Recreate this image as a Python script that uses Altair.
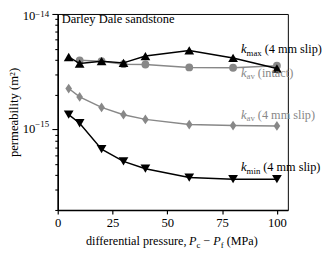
import altair as alt
import pandas as pd

# ---- data ----
P_all = [5, 10, 20, 30, 40, 60, 80, 100]
kmax_slip = [4.24e-15, 3.72e-15, 3.90e-15, 3.77e-15, 4.32e-15, 4.83e-15, 4.16e-15, 3.37e-15]
P_intact = [10, 20, 30, 40, 60, 80, 100]
kav_intact = [3.97e-15, 3.90e-15, 3.67e-15, 3.65e-15, 3.44e-15, 3.42e-15, 3.56e-15]
kav_slip = [2.26e-15, 1.91e-15, 1.55e-15, 1.34e-15, 1.22e-15, 1.10e-15, 1.08e-15, 1.07e-15]
kmin_slip = [1.34e-15, 1.13e-15, 6.73e-16, 5.28e-16, 4.56e-16, 3.82e-16, 3.70e-16, 3.70e-16]

x_ticks = [0, 25, 50, 75, 100]
y_major = [1e-15, 1e-14]
y_major_exp = ["\u221215", "\u221214"]
y_minor = [m * 1e-16 for m in range(2, 10)] + [m * 1e-15 for m in range(2, 10)]

# series label anchors (data coordinates) and texts
lab_x = [83.6, 83.6, 83.6, 83.6]
lab_y = [4.58e-15, 2.87e-15, 1.24e-15, 4.35e-16]
lab_sub = ["max", "av", "av", "min"]
lab_rest = ["(4 mm slip)", "(intact)", "(4 mm slip)", "(4 mm slip)"]
lab_color = ["black", "#888888", "#888888", "black"]

FONT = "Liberation Serif"
FS = 12.5
LFS = 12.6
SUB = 9
BLACK = "black"
GREY = "#888888"

W, H = 236, 201

x_axis = alt.Axis(
    values=x_ticks, title=None, grid=False, domainColor=BLACK, domainWidth=1.6,
    tickColor=BLACK, tickSize=4, tickWidth=1.2, labelFont=FONT, labelFontSize=13,
    labelColor=BLACK, labelPadding=3, labelFlush=False)
y_axis = alt.Axis(
    values=y_major + y_minor, title=None, grid=False, labels=False,
    domainColor=BLACK, domainWidth=1.6, tickColor=BLACK, tickWidth=1.1,
    tickSize={"condition": {"test": "(datum.value > 9.9e-16 && datum.value < 1.01e-15) || datum.value > 9.9e-15",
                            "value": 6}, "value": 3})
xs = alt.Scale(domain=[0, 105], nice=False, zero=False)
ys = alt.Scale(type="log", domain=[2e-16, 1e-14], nice=False)


def X():
    return alt.X("P:Q", scale=xs, axis=x_axis)


def Y():
    return alt.Y("k:Q", scale=ys, axis=y_axis)


TRI_UP = "M0,-0.85L1,0.85L-1,0.85Z"
TRI_DN = "M0,0.85L1,-0.85L-1,-0.85Z"
DIAM = "M0,-1L0.68,0L0,1L-0.68,0Z"


def series(P, k, color, shape, size):
    df = pd.DataFrame({"P": P, "k": k})
    base = alt.Chart(df).encode(x=X(), y=Y())
    line = base.mark_line(color=color, strokeWidth=1.5)
    pts = base.mark_point(shape=shape, filled=True, color=color, size=size, opacity=1, strokeWidth=0)
    return line + pts


# y tick labels 10^n
ylab_layers = []
for val, ex, shift, sshift in zip(y_major, y_major_exp, [0, 2.5], [-5, 0.5]):
    d = pd.DataFrame({"k": [val], "e": [ex]})
    b = alt.Chart(d).encode(y=Y())
    ylab_layers.append(b.mark_text(font=FONT, fontSize=13, align="right", baseline="middle",
                                   color=BLACK, dy=shift).encode(x=alt.value(-23), text=alt.value("10")))
    ylab_layers.append(b.mark_text(font=FONT, fontSize=SUB, align="left", baseline="middle",
                                   color=BLACK, dy=sshift).encode(x=alt.value(-23), text="e:N"))

# series labels
sub_w = {"max": 15.5, "av": 8.5, "min": 14.0}
lab_layers = []
for i in range(len(lab_x)):
    d = pd.DataFrame({"P": [lab_x[i]], "k": [lab_y[i]], "sub": [lab_sub[i]], "rest": [lab_rest[i]]})
    b = alt.Chart(d).encode(x=X(), y=Y())
    c = lab_color[i]
    lab_layers.append(b.mark_text(font=FONT, fontSize=13, fontStyle="italic", align="left",
                                  baseline="alphabetic", color=c).encode(text=alt.value("k")))
    lab_layers.append(b.mark_text(font=FONT, fontSize=SUB, align="left", baseline="alphabetic",
                                  color=c, dx=5.8, dy=2.5).encode(text="sub:N"))
    lab_layers.append(b.mark_text(font=FONT, fontSize=LFS, align="left", baseline="alphabetic",
                                  color=c, dx=5.8 + sub_w[lab_sub[i]] + 3.0).encode(text="rest:N"))

one = pd.DataFrame({"a": [0]})


def ptext(txt, x, y, size=FS, style="normal", align="left", baseline="alphabetic", angle=0):
    kw = dict(font=FONT, fontSize=size, fontStyle=style, align=align, baseline=baseline, color=BLACK)
    if angle:
        kw["angle"] = angle
    return alt.Chart(one).mark_text(**kw).encode(x=alt.value(x), y=alt.value(y), text=alt.value(txt))


title_layers = [
    ptext("Darley Dale sandstone", 4, 9, size=12.8),
    ptext("differential pressure,", 29, 237),
    ptext("P", 134.7, 237, style="italic"),
    ptext("c", 142.3, 239.5, size=SUB),
    ptext("\u2212", 149.4, 237),
    ptext("P", 159.5, 237, style="italic"),
    ptext("f", 167.1, 239.5, size=SUB),
    ptext("(MPa)", 173.2, 237),
    ptext("permeability (m\u00b2)", -45, 101, size=13, align="center", baseline="middle", angle=270),
]

chart = alt.layer(
    series(P_intact, kav_intact, GREY, "circle", 64),
    series(P_all, kav_slip, GREY, DIAM, 100),
    series(P_all, kmax_slip, BLACK, TRI_UP, 100),
    series(P_all, kmin_slip, BLACK, TRI_DN, 100),
    *ylab_layers,
    *lab_layers,
    *title_layers,
).properties(
    width=W, height=H,
    autosize=alt.AutoSizeParams(type="none"),
    padding={"left": 51, "top": 3, "right": 35, "bottom": 43},
).configure_view(stroke=BLACK, strokeWidth=1)

chart.save("out.html", embed_options={"renderer": "svg", "actions": False})
